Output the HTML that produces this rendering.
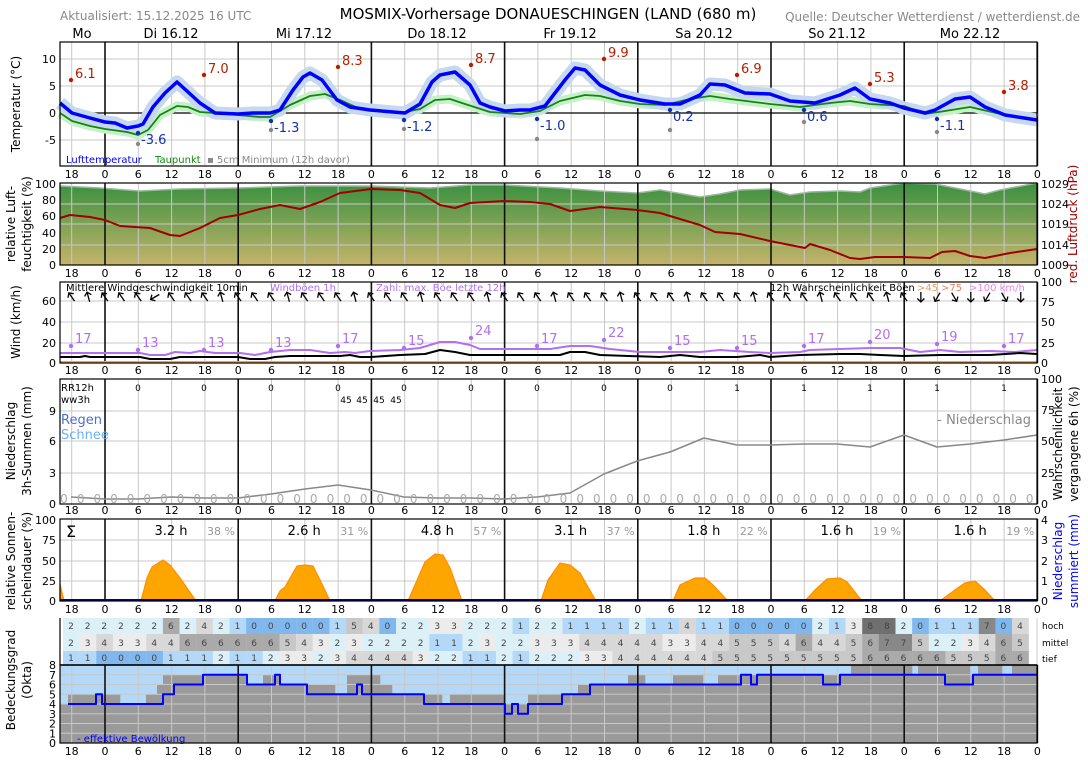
<!DOCTYPE html>
<html><head><meta charset="utf-8"><style>
body{margin:0;background:#fff}
svg text{font-family:"DejaVu Sans","Liberation Sans",sans-serif}
</style></head><body>
<svg id="s" width="1088" height="763" xmlns="http://www.w3.org/2000/svg"></svg>
<script>
const S=document.getElementById('s');let h='';
const X=t=>105+t*133.2/24;
const L=60,R=1037;
function txt(x,y,s,o={}){h+=`<text x="${x}" y="${y}" font-size="${o.fs||11}" fill="${o.c||'#000'}" text-anchor="${o.a||'start'}"${o.tr?` transform="${o.tr}"`:''}>${s}</text>`;}
function line(x1,y1,x2,y2,c,w){h+=`<line x1="${x1}" y1="${y1}" x2="${x2}" y2="${y2}" stroke="${c}" stroke-width="${w}"/>`;}
function poly(p,c,w,fill){h+=`<polyline points="${p.map(q=>q.join(',')).join(' ')}" fill="${fill||'none'}" stroke="${c}" stroke-width="${w}" stroke-linejoin="round"/>`;}
function vgrid(t0,t1){for(let t=-6;t<=168;t+=6){const x=X(t);line(x,t0,x,t1,'#c8c8c8',1);}}
function hgrid(ys,t0){ys.forEach(y=>line(L,y,R,y,'#c8c8c8',1));}
function dayl(t0,t1){for(let t=0;t<=168;t+=24){line(X(t),t0,X(t),t1,'#111',1.6);}}
function frame(t0,t1){h+=`<rect x="${L}" y="${t0}" width="${R-L}" height="${t1-t0}" fill="none" stroke="#000" stroke-width="1.2"/>`;}
function ticks(y){for(let t=-6;t<=168;t+=6){txt(X(t),y,((t%24)+24)%24,{a:'middle'});}}
function ylab(vals){vals.forEach(v=>txt(56,v[1]+4,v[0],{a:'end'}));}
function rlab(vals,c){vals.forEach(v=>txt(1041,v[1]+4,v[0],{c:c||'#000'}));}
function vt(x,y,s,o={}){txt(x,y,s,Object.assign({a:'middle',fs:12,tr:`rotate(-90 ${x} ${y})`},o));}

// header
txt(60,20,'Aktualisiert: 15.12.2025 16 UTC',{c:'#888',fs:12});
txt(548,19,'MOSMIX-Vorhersage DONAUESCHINGEN (LAND (680 m)',{a:'middle',fs:15});
txt(1080,21,'Quelle: Deutscher Wetterdienst / wetterdienst.de',{c:'#888',fs:12,a:'end'});
[['Mo',82],['Di 16.12',171],['Mi 17.12',304],['Do 18.12',437],['Fr 19.12',570],['Sa 20.12',704],['So 21.12',837],['Mo 22.12',970]].forEach(d=>txt(d[1],38,d[0],{a:'middle',fs:13}));

// ===== Temperature
vgrid(42,166);hgrid([59,86,140]);dayl(42,166);line(L,113,R,113,'#000',1.2);
const T=[[60,103],[72,113],[90,118],[105,122],[115,123],[127,128],[138,126],[143,124],[153,107],[165,93],[177,82],[188,92],[200,103],[215,113],[238,114],[253,113],[270,113],[280,110],[293,90],[303,77],[310,73],[322,80],[337,100],[350,107],[370,110],[393,112],[405,113],[420,104],[432,82],[440,75],[455,72],[470,85],[480,103],[490,107],[505,111],[520,110],[530,110],[545,106],[555,93],[565,80],[575,68],[585,70],[600,85],[620,95],[640,100],[665,104],[680,104],[700,95],[710,84],[725,85],[745,93],[770,94],[790,101],[815,103],[840,95],[855,88],[870,99],[890,103],[904,108],[925,113],[935,110],[955,99],[970,97],[985,107],[1005,115],[1037,120]];
const D=[[60,113],[72,121],[90,126],[105,129],[127,132],[138,135],[148,130],[160,115],[177,106],[188,107],[200,112],[215,113],[238,115],[260,117],[270,117],[290,105],[310,96],[325,94],[340,100],[360,109],[400,113],[420,109],[435,100],[450,99],[465,104],[490,112],[520,114],[540,111],[560,101],[585,95],[600,96],[620,101],[640,104],[665,105],[690,99],[710,96],[730,99],[770,104],[800,107],[830,103],[850,101],[870,104],[904,106],[925,114],[945,111],[970,107],[1005,115],[1037,120]];
poly(D,'#c8f0c8',9);poly(T,'#c5d8ee',13);poly(D,'#108810',1.8);poly(T,'#0000ff',3.5);
[[71,80,'6.1'],[204,75,'7.0'],[338,67,'8.3'],[471,65,'8.7'],[604,59,'9.9'],[737,75,'6.9'],[870,84,'5.3'],[1004,92,'3.8']].forEach(p=>{h+=`<circle cx="${p[0]}" cy="${p[1]}" r="2.2" fill="#b22000"/>`;txt(p[0]+4,p[1]-2,p[2],{c:'#b22000',fs:13});});
[[138,133,'-3.6',144],[271,121,'-1.3',130],[404,120,'-1.2',129],[537,119,'-1.0',139],[670,110,'0.2',130],[804,110,'0.6',122],[937,119,'-1.1',132]].forEach(p=>{h+=`<circle cx="${p[0]}" cy="${p[1]}" r="2.2" fill="#1030b0"/><circle cx="${p[0]}" cy="${p[3]}" r="2.2" fill="#888"/>`;txt(p[0]+3,p[1]+11,p[2],{c:'#1030b0',fs:13});});
txt(66,163,'Lufttemperatur',{c:'#0000ff',fs:10});txt(155,163,'Taupunkt',{c:'#108810',fs:10});txt(207,163,'▪ 5cm Minimum (12h davor)',{c:'#888',fs:10});
frame(42,166);ylab([[10,59],[5,86],[0,113],[-5,140]]);ticks(178);
vt(20,104,'Temperatur (°C)');

// ===== Humidity
h+=`<defs><linearGradient id="g" x1="0" y1="0" x2="0" y2="1"><stop offset="0" stop-color="#3a9040"/><stop offset="1" stop-color="#c4b46a"/></linearGradient></defs>`;
const Hu=[[60,186],[100,188],[140,191],[180,189],[238,188],[300,186],[371,186],[430,188],[470,185],[504,185],[560,188],[600,191],[637,193],[660,190],[700,197],[720,194],[740,190],[770,189],[790,195],[810,192],[840,191],[860,192],[870,188],[904,183],[935,184],[960,189],[985,194],[1000,190],[1037,183]];
h+=`<polygon points="${[[60,265],...Hu,[1037,265]].map(q=>q.join(',')).join(' ')}" fill="url(#g)"/>`;
poly(Hu,'#9ab89a',1.5);
vgrid(183,265);hgrid([204,224,245]);dayl(183,265);
const P=[[60,218],[70,215],[90,217],[105,220],[120,226],[150,228],[170,235],[180,236],[200,228],[220,218],[238,215],[260,209],[280,205],[300,209],[320,202],[340,193],[371,189],[400,190],[420,193],[440,205],[455,208],[470,203],[504,201],[530,202],[550,204],[570,211],[600,207],[637,210],[660,213],[690,222],[700,225],[715,232],[740,234],[770,241],[805,248],[810,244],[830,250],[850,258],[860,259],[875,257],[904,257],[930,258],[942,252],[955,251],[970,256],[985,258],[1010,253],[1037,249]];
poly(P,'#a00000',2);
frame(183,265);ylab([[100,184],[80,200],[60,216],[40,233],[20,249],[0,265]]);rlab([[1029,184],[1024,204],[1019,224],[1014,245],[1009,265]]);ticks(277);
vt(15,224,'relative Luft-');vt(31,224,'feuchtigkeit (%)');vt(1077,224,'red. Luftdruck (hPa)',{c:'#a00000'});

// ===== Wind
vgrid(282,363);hgrid([301,322,343]);dayl(282,363);
line(L,362,R,362,'#ffa040',2);
const G=[[60,353],[100,353],[140,353],[150,355],[165,355],[175,352],[190,353],[200,351],[215,353],[240,353],[255,355],[270,352],[290,350],[310,350],[330,353],[345,352],[355,353],[370,351],[400,350],[420,348],[440,342],[455,342],[470,345],[480,349],[504,349],[550,349],[570,346],[590,346],[610,349],[640,352],[670,352],[700,352],[720,350],[750,352],[770,353],[800,352],[810,350],[840,349],[870,348],[900,348],[920,352],[940,350],[960,352],[990,351],[1015,352],[1037,350]];
const M=[[60,357],[80,357],[85,356],[90,357],[140,357],[150,359],[170,359],[180,357],[238,357],[250,359],[265,359],[275,357],[290,356],[340,356],[350,355],[360,357],[371,357],[400,355],[425,354],[440,350],[455,352],[470,355],[504,355],[560,355],[570,352],[585,352],[600,355],[660,357],[680,355],[700,357],[737,357],[760,355],[770,357],[800,355],[840,354],[860,354],[880,355],[904,356],[940,355],[960,355],[990,355],[1020,353],[1037,354]];
poly(G,'#b070f0',2);poly(M,'#000',2);
[[71,346,17],[138,350,13],[204,350,13],[271,350,13],[338,346,17],[404,348,15],[471,338,24],[537,346,17],[604,340,22],[670,348,15],[737,348,15],[804,346,17],[870,342,20],[937,344,19],[1004,346,17]].forEach(p=>{h+=`<circle cx="${p[0]}" cy="${p[1]}" r="2.2" fill="#b070f0"/>`;txt(p[0]+4,p[1]-3,p[2],{c:'#b070f0',fs:13});});
for(let i=0;i<58;i++){const t=-6+i*3,x=X(t);let a=-35;
 if(i%4==1)a=-15; if(i==5)a=-120;
 if(i>=51)a=(i%3==0)?180:(i%3==1?-150:150);
 h+=`<g transform="translate(${x},297) rotate(${a})"><line x1="0" y1="5" x2="0" y2="-5" stroke="#000" stroke-width="1.3"/><polyline points="-3.5,-1.5 0,-5 3.5,-1.5" fill="none" stroke="#000" stroke-width="1.3"/></g>`;}
txt(66,291,'Mittlere Windgeschwindigkeit 10min',{fs:10});txt(270,291,'Windböen 1h',{c:'#b070f0',fs:10});txt(376,291,'Zahl: max. Böe letzte 12h',{c:'#b070f0',fs:10});
txt(770,291,'12h Wahrscheinlichkeit Böen',{fs:10});txt(917,291,'>45',{c:'#e0a060',fs:10});txt(941,291,'>75',{c:'#f08060',fs:10});txt(969,291,'>100 km/h',{c:'#ee82ee',fs:10});
frame(282,363);ylab([[60,301],[40,322],[20,343],[0,363]]);rlab([[100,282],[75,302],[50,322],[25,343],[0,363]]);ticks(374);
vt(20,322,'Wind (km/h)');

// ===== Precip
vgrid(379,504);hgrid([411,441,473]);dayl(379,504);
[138,204,271,338,404,471,537,604,670].forEach(x=>txt(x,391,'0',{a:'middle',fs:9}));
[737,804,870,937,1004].forEach(x=>txt(x,391,'1',{a:'middle',fs:9}));
[346,362,379,396].forEach(x=>txt(x,403,'45',{a:'middle',fs:9}));
txt(61,391,'RR12h',{fs:10});txt(61,403,'ww3h',{fs:10});
txt(61,424,'Regen',{c:'#4a70d0',fs:13});txt(61,439,'Schnee',{c:'#6ab0f0',fs:13});
txt(1031,424,'- Niederschlag',{c:'#888',fs:13,a:'end'});
const PP=[[71,497],[105,499],[138,499],[171,497],[204,498],[238,498],[271,494],[305,489],[338,485],[371,490],[404,497],[437,498],[471,498],[504,499],[537,497],[570,493],[604,474],[637,461],[670,452],[704,438],[737,445],[770,445],[804,444],[837,444],[870,447],[904,435],[937,447],[970,444],[1004,440],[1037,435]];
poly(PP,'#888',1.5);
for(let i=0;i<59;i++)txt(64+i*16.65,503,'0',{c:'#aaa',fs:12,a:'middle'});
frame(379,504);ylab([[9,411],[6,441],[3,473],[0,504]]);rlab([[100,379],[75,410],[50,441],[25,473],[0,504]]);ticks(514);
vt(15,441,'Niederschlag');vt(31,441,'3h-Summen (mm)');vt(1062,444,'Wahrscheinlichkeit');vt(1078,444,'vergangene 6h (%)');

// ===== Sun
vgrid(519,601);hgrid([540,561,581]);dayl(519,601);
[[[60,601],[60,584],[64,601]],[[141,601],[147,578],[152,567],[163,560],[170,565],[180,578],[196,601]],[[275,601],[280,591],[285,587],[297,566],[305,565],[313,566],[320,580],[330,601]],[[408,601],[415,585],[425,562],[435,554],[443,555],[450,568],[462,601]],[[541,601],[548,580],[560,563],[570,565],[580,573],[596,601]],[[673,601],[680,585],[695,578],[705,578],[713,585],[728,601]],[[805,601],[815,590],[827,579],[840,578],[847,582],[862,601]],[[940,601],[955,590],[965,583],[975,581],[985,590],[995,601]]].forEach(p=>{h+=`<polygon points="${p.map(q=>q.join(',')).join(' ')}" fill="#ffa500" stroke="#ff8c00" stroke-width="1.2"/>`;});
line(L,600,R,600,'#0000a0',2);
txt(66,537,'Σ',{fs:16});
[['3.2 h','38 %'],['2.6 h','31 %'],['4.8 h','57 %'],['3.1 h','37 %'],['1.8 h','22 %'],['1.6 h','19 %'],['1.6 h','19 %']].forEach((d,i)=>{const x=171+i*133.2;txt(x,535,d[0],{a:'middle',fs:13});txt(x+50,535,d[1],{a:'middle',fs:11,c:'#999'});});
frame(519,601);ylab([[100,520],[75,540],[50,561],[25,581],[0,601]]);rlab([[4,520],[3,540],[2,561],[1,581],[0,601]]);ticks(613);
vt(15,561,'relative Sonnen-');vt(31,561,'scheindauer (%)');vt(1062,561,'Niederschlag',{c:'#0000ff'});vt(1078,561,'summiert (mm)',{c:'#0000ff'});

// ===== Cloud table
const hoch=[2,2,2,2,2,2,6,2,4,2,1,0,0,0,0,0,1,5,4,0,2,2,3,3,2,2,2,1,2,2,1,1,1,1,2,1,1,4,1,1,0,0,0,0,0,2,1,3,8,8,2,0,1,1,1,7,0,4];
const mit=[2,3,4,3,3,4,4,6,6,6,6,6,6,5,4,3,2,3,2,2,2,2,1,1,2,3,2,2,3,3,3,4,4,4,4,4,3,3,4,4,5,5,5,4,6,4,4,5,6,7,7,5,2,2,3,4,6,5];
const tief=[1,1,0,0,0,0,1,1,1,2,1,1,2,3,3,2,3,4,4,4,4,3,2,2,1,1,2,1,2,2,2,3,3,4,4,4,4,4,4,5,5,5,5,5,5,5,5,5,6,6,6,6,6,5,5,5,6,6];
const cc=['#80b8ee','#b4d8f8','#dcf0f8','#ececec','#d8d8d8','#c8c8c8','#aaaaaa','#888888','#707070'];
[[hoch,618,16],[mit,634,17],[tief,651,14]].forEach(r=>{r[0].forEach((v,i)=>{const x=63+i*16.65;h+=`<rect x="${Math.max(L,x)}" y="${r[1]}" width="${16.8-(x<L?L-x:0)}" height="${r[2]}" fill="${cc[v]}"/>`;});});
[[hoch,629],[mit,646],[tief,661]].forEach(r=>r[0].forEach((v,i)=>txt(71+i*16.65,r[1],v,{a:'middle',fs:9,c:'#444'})));
txt(1042,629,'hoch',{fs:9});txt(1042,646,'mittel',{fs:9});txt(1042,662,'tief',{fs:9});
line(L,618,L,665,'#000',1.2);line(R,618,R,665,'#ccc',1);

// ===== Cloud bottom
const oy=v=>743-v*9.75;
h+=`<rect x="${L}" y="665" width="${R-L}" height="78" fill="#b4d8f8"/>`;
const gray=[[60,4],[68,5],[120,4],[146,5],[157,6],[163,7],[247,6],[263,7],[280,6],[335,5],[347,7],[380,6],[392,5],[442,4],[450,5],[505,4],[528,5],[578,6],[628,7],[645,6],[673,7],[703,6],[718,7],[851,8],[912,7],[918,8],[970,7],[978,8],[1002,7],[1012,8],[1037,8]];
for(let i=0;i<gray.length-1;i++){h+=`<rect x="${gray[i][0]}" y="${oy(gray[i][1])}" width="${gray[i+1][0]-gray[i][0]+0.3}" height="${gray[i][1]*9.75}" fill="#9a9a9a"/>`;}
for(let v=1;v<8;v++)line(L,oy(v),R,oy(v),'#c8c8c8',1);
vgrid(665,743);dayl(665,743);
const eff=[[68,4],[96,5],[102,4],[163,5],[174,6],[203,7],[247,6],[275,7],[280,6],[307,5],[357,6],[362,5],[424,4],[505,3],[512,4],[518,3],[528,4],[562,5],[590,6],[741,7],[751,6],[757,7],[823,6],[840,7],[945,6],[973,7],[1037,7]];
let ep=[];for(let i=0;i<eff.length;i++){if(i>0)ep.push([eff[i][0],oy(eff[i-1][1])]);ep.push([eff[i][0],oy(eff[i][1])]);}
ep.pop();ep.push([1037,oy(7)]);
poly(ep,'#0000ff',2);
txt(77,742,'- effektive Bewölkung',{c:'#0000ff',fs:10});
frame(665,743);line(L,665,R,665,'#000',1.5);
for(let v=0;v<=8;v++)txt(56,oy(v)+4,v,{a:'end'});
ticks(755);
vt(15,680,'Bedeckungsgrad');vt(31,680,'(Okta)');
S.innerHTML=h;
</script>
</body></html>
